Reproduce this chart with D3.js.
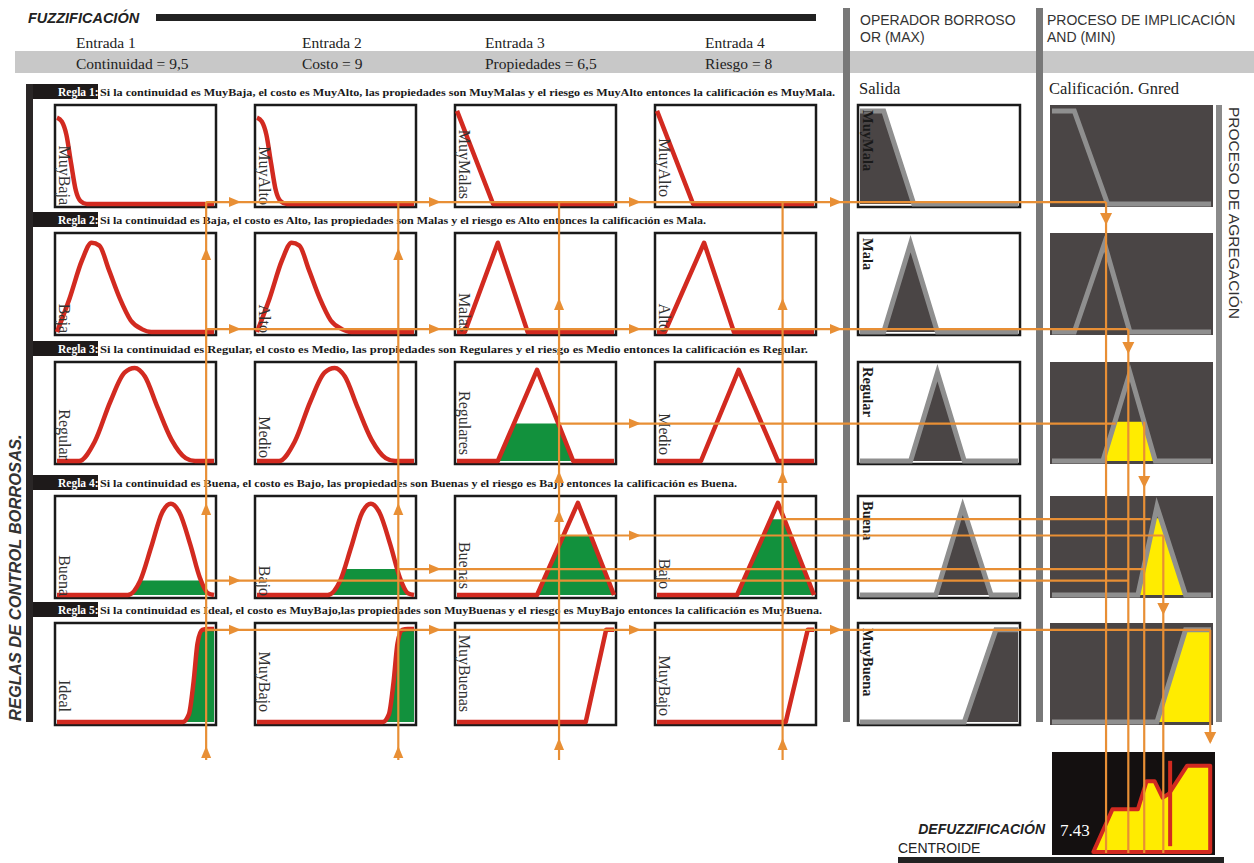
<!DOCTYPE html>
<html><head><meta charset="utf-8">
<script src="https://cdn.jsdelivr.net/npm/d3@7/dist/d3.min.js"></script>
<style>body{margin:0;background:#fff}svg{display:block}</style>
</head><body>
<script>
// ---------------- DATA ----------------
const entradas = ["Entrada 1","Entrada 2","Entrada 3","Entrada 4"];
const variables = ["Continuidad = 9,5","Costo = 9","Propiedades = 6,5","Riesgo = 8"];
const inputValues = [9.5, 9, 6.5, 8];
const reglas = ["Regla 1:","Regla 2:","Regla 3:","Regla 4:","Regla 5:"];
const ruleTexts = [
 "Si la continuidad es MuyBaja, el costo es MuyAlto, las propiedades son MuyMalas y el riesgo es  MuyAlto entonces la calificación es MuyMala.",
 "Si la continuidad es Baja, el costo es Alto, las propiedades son Malas y el riesgo es Alto entonces la calificación es Mala.",
 "Si la continuidad es Regular, el costo es Medio, las propiedades son Regulares y el riesgo es Medio entonces la calificación es Regular.",
 "Si la continuidad es Buena, el costo es Bajo, las propiedades son Buenas y el riesgo es Bajo entonces la calificación es Buena.",
 "Si la continuidad es Ideal, el costo es MuyBajo,las propiedades son MuyBuenas y el riesgo es MuyBajo entonces la calificación es MuyBuena."
];
const ruleTextWidths = [735, 606, 708, 637, 722];
const termLabels = [
 ["MuyBaja","MuyAlto","MuyMalas","MuyAlto"],
 ["Baja","Alto","Malas","Alto"],
 ["Regular","Medio","Regulares","Medio"],
 ["Buena","Bajo","Buenas","Bajo"],
 ["Ideal","MuyBajo","MuyBuenas","MuyBajo"]
];
// membership functions [x (0-10), grade (0-1)]
const zDecreasing = [[0,0.9],[0.3,0.86],[0.6,0.72],[0.9,0.42],[1.2,0.14],[1.5,0.03],[1.9,0],[10,0]];
const bellLow = [[0,0],[0.8,0.35],[1.6,0.75],[2.2,0.93],[2.7,0.9],[3.3,0.65],[4.0,0.35],[4.7,0.12],[5.4,0.03],[6,0],[10,0]];
const bellMid = [[0,0],[1.4,0],[2.4,0.2],[3.4,0.62],[4.3,0.92],[4.95,0.97],[5.6,0.88],[6.4,0.56],[7.3,0.22],[8.2,0.03],[8.8,0],[10,0]];
const bellHigh = [[0,0],[4.5,0],[5.3,0.15],[6.0,0.5],[6.7,0.86],[7.25,0.95],[7.8,0.86],[8.5,0.52],[9.1,0.18],[9.6,0.02],[10,0]];
const sRising = [[0,0],[8.0,0],[8.4,0.08],[8.7,0.42],[8.95,0.82],[9.25,0.96],[9.6,0.97],[10,0.97]];
const memberships = [
 [zDecreasing, zDecreasing, [[0,0.97],[2.3,0],[10,0]], [[0,0.97],[2.3,0],[10,0]]],
 [bellLow, bellLow, [[0,0],[0.5,0],[2.6,0.93],[4.5,0],[10,0]], [[0,0],[0.5,0],[3.0,0.93],[4.9,0],[10,0]]],
 [bellMid, bellMid, [[0,0],[2.6,0],[5.1,0.95],[7.4,0],[10,0]], [[0,0],[2.8,0],[5.2,0.95],[7.7,0],[10,0]]],
 [bellHigh, bellHigh, [[0,0],[5.1,0],[7.7,0.96],[10,0]], [[0,0],[5.1,0],[7.7,0.96],[10,0]]],
 [sRising, sRising, [[0,0],[8.2,0],[9.5,0.96],[10,0.96]], [[0,0],[8.2,0],[9.6,0.96],[10,0.96]]]
];
const smoothShape = [
 [true,true,false,false],[true,true,false,false],[true,true,false,false],[true,true,false,false],[true,true,false,false]
];
// fired degree (green) per rule / input
const firedLevels = [
 [0,0,0,0],
 [0,0,0,0],
 [0,0,0.39,0],
 [0.15,0.27,0.62,0.79],
 [1,1,0,0]
];
// vertical gap (px) between label end and panel bottom
const labelBottomGap = [
 [2,2,8,10],
 [2,2,3,3],
 [4,6,9,9],
 [2,2,9,9],
 [13,13,13,9]
];
const outputLabels = ["MuyMala","Mala","Regular","Buena","MuyBuena"];
const salidaShapes = [
 [[0,0.97],[1.5,0.97],[3.4,0],[10,0]],
 [[0,0],[1.5,0],[3.2,0.92],[4.9,0],[10,0]],
 [[0,0],[3.2,0],[4.9,0.92],[6.6,0],[10,0]],
 [[0,0],[4.8,0],[6.5,0.92],[8.3,0],[10,0]],
 [[0,0],[6.6,0],[8.6,0.96],[10,0.96]]
];
const implicacionShapes = [
 [[0,0.97],[1.4,0.97],[3.5,0],[10,0]],
 [[0,0],[1.4,0],[3.3,0.92],[4.9,0],[10,0]],
 [[0,0],[3.2,0],[4.9,0.92],[6.5,0],[10,0]],
 [[0,0],[5.4,0],[6.6,0.92],[8.4,0],[10,0]],
 [[0,0],[6.6,0],[8.4,0.96],[10,0.96]]
];
const implicationLevels = [0,0,0.41,0.8,0.95];
// aggregated output (defuzzification)
const aggregated = [[2.6,0],[3.8,0.44],[5.4,0.44],[5.95,0.73],[6.45,0.73],[6.95,0.56],[7.35,0.6],[8.5,0.89],[9.95,0.89],[9.95,0]];
const centroide = 7.43;
const centroideTexto = "7.43";
// connectors: horizontal lines from an input column at a fired level, to implication x
const hLinks = [
 {rule:0, col:0, level:0.02, end:3.4, arrows:[0,1,2,3]},
 {rule:1, col:0, level:0.03, end:4.8, arrows:[0,1,2,3]},
 {rule:2, col:2, level:0.39, end:4.0, arrows:[2]},
 {rule:3, col:0, level:0.15, end:4.8, arrows:[0]},
 {rule:3, col:1, level:0.27, end:5.8, arrows:[1]},
 {rule:3, col:2, level:0.62, end:7.0, arrows:[2]},
 {rule:3, col:3, level:0.79, end:6.2, arrows:[]},
 {rule:4, col:0, level:0.96, end:9.95, arrows:[0,1,2,3]}
];
// vertical lines in the implication / aggregation column
const vLinks = [
 {x:3.4, fromRule:0, level:0.02, arrowRow:1},
 {x:4.8, fromRule:1, level:0.03, arrowRow:2},
 {x:5.8, fromRule:2, level:0.41, arrowRow:3},
 {x:7.0, fromRule:3, level:0.62, arrowRow:4},
 {x:9.95, fromRule:4, level:0.96, arrowRow:5}
];
// upward arrow tips on the input value lines (y position)
const inputArrowY = [[250,505,748],[250,505,748],[300,473,512,740],[300,473,740]];

// ---------------- LAYOUT ----------------
const W = 1254, H = 863;
const colX = [55,255,455,655], colW = 161;
const rowY = [105,233,362,496,623], rowH = 102;
const outX = 858, outW = 162, impX = 1050, impW = 163;
const defY = 752, defH = 103;
const RED = "#d22a20", GREEN = "#12913d", ORANGE = "#e88f35", DARK = "#4a4545", GREY = "#8f8f8f", YEL = "#ffec00";

const svg = d3.select("body").append("svg").attr("width",W).attr("height",H)
  .style("font-family","'Liberation Serif','Times New Roman',serif");

function sx(x0,w){return d3.scaleLinear().domain([0,10]).range([x0+2,x0+w-2]);}
function sy(y0,h){return d3.scaleLinear().domain([0,1]).range([y0+h-3,y0+3]);}
const sans = "'Liberation Sans',Arial,sans-serif";

// header
svg.append("text").attr("x",28).attr("y",23).text("FUZZIFICACIÓN")
  .style("font-family",sans).style("font-weight","bold").style("font-style","italic").style("font-size","14.5px").attr("fill","#222");
svg.append("rect").attr("x",156).attr("y",14).attr("width",660).attr("height",7).attr("fill","#222");
svg.append("rect").attr("x",15).attr("y",51).attr("width",W-15).attr("height",22).attr("fill","#c8c8c8");
const entX = [76,302,485,705];
entradas.forEach((t,i)=>{
  svg.append("text").attr("x",entX[i]).attr("y",48).text(t).style("font-size","15.5px").attr("fill","#222");
  svg.append("text").attr("x",entX[i]).attr("y",69).text(variables[i]).style("font-size","15.5px").attr("fill","#222");
});
// column separators
svg.append("rect").attr("x",843).attr("y",8).attr("width",7).attr("height",714).attr("fill","#787878");
svg.append("rect").attr("x",1036).attr("y",8).attr("width",7).attr("height",714).attr("fill","#787878");
svg.append("rect").attr("x",1216).attr("y",105).attr("width",6).attr("height",617).attr("fill","#8a8a8a");
[["OPERADOR BORROSO",860,25],["OR (MAX)",860,42],["PROCESO DE IMPLICACIÓN",1047,25],["AND (MIN)",1047,42]].forEach(d=>{
  svg.append("text").attr("x",d[1]).attr("y",d[2]).text(d[0]).style("font-family",sans).style("font-size","14px").attr("fill","#333");
});
svg.append("text").attr("x",859).attr("y",94).text("Salida").style("font-size","16.5px").attr("fill","#222");
svg.append("text").attr("x",1049).attr("y",94).text("Calificación. Gnred").style("font-size","16.5px").attr("fill","#222");
svg.append("text").attr("transform","translate(1229,107) rotate(90)").text("PROCESO DE AGREGACIÓN")
  .style("font-family",sans).style("font-size","15.5px").attr("fill","#333");
// left bar and vertical title
svg.append("rect").attr("x",26).attr("y",84).attr("width",7).attr("height",638).attr("fill","#2a2626");
svg.append("text").attr("transform","translate(21,721) rotate(-90)").text("REGLAS DE CONTROL BORROSAS.")
  .style("font-family",sans).style("font-weight","bold").style("font-style","italic").style("font-size","16.5px").attr("fill","#333");

// rule headers
reglas.forEach((r,i)=>{
  const y = rowY[i]-21;
  svg.append("rect").attr("x",33).attr("y",y).attr("width",65).attr("height",15).attr("fill","#1e1a1a");
  svg.append("text").attr("x",58).attr("y",y+11.5).text(r).style("font-weight","bold").style("font-size","11.5px").attr("fill","#fff");
  svg.append("text").attr("x",100).attr("y",y+11.5).text(ruleTexts[i]).style("font-weight","bold").style("font-size","11px")
    .attr("textLength",ruleTextWidths[i]).attr("lengthAdjust","spacingAndGlyphs").attr("fill","#1a1a1a");
});

// input panels
const defs = svg.append("defs");
memberships.forEach((row,ri)=>{
  row.forEach((pts,ci)=>{
    const x = sx(colX[ci],colW), y = sy(rowY[ri],rowH);
    const g = svg.append("g");
    g.append("rect").attr("x",colX[ci]).attr("y",rowY[ri]).attr("width",colW).attr("height",rowH)
      .attr("fill","#fff").attr("stroke","#1a1a1a").attr("stroke-width",2.5);
    const curve = smoothShape[ri][ci] ? d3.curveMonotoneX : d3.curveLinear;
    const lvl = firedLevels[ri][ci];
    if (lvl>0){
      const id = `clipIn${ri}${ci}`;
      defs.append("clipPath").attr("id",id).append("rect")
        .attr("x",colX[ci]).attr("y",y(lvl)).attr("width",colW).attr("height",y(0)-y(lvl)+3);
      g.append("path").attr("clip-path",`url(#${id})`)
        .attr("d",d3.area().x(d=>x(d[0])).y0(y(0)).y1(d=>y(d[1])).curve(curve)(pts)).attr("fill",GREEN);
    }
    g.append("path").attr("d",d3.line().x(d=>x(d[0])).y(d=>y(d[1])).curve(curve)(pts))
      .attr("fill","none").attr("stroke",RED).attr("stroke-width",4.5).attr("stroke-linejoin","round");
    g.append("text").attr("transform",`translate(${colX[ci]+4},${rowY[ri]+rowH-labelBottomGap[ri][ci]}) rotate(90)`)
      .attr("text-anchor","end").text(termLabels[ri][ci]).style("font-size","16px").attr("fill","#333");
  });
});

// output (Salida) panels
salidaShapes.forEach((pts,ri)=>{
  const x = sx(outX,outW), y = sy(rowY[ri],rowH);
  svg.append("rect").attr("x",outX).attr("y",rowY[ri]).attr("width",outW).attr("height",rowH)
    .attr("fill","#fff").attr("stroke","#1a1a1a").attr("stroke-width",2.5);
  svg.append("path").attr("d",d3.area().x(d=>x(d[0])).y0(y(0)).y1(d=>y(d[1]))(pts)).attr("fill",DARK);
  svg.append("path").attr("d",d3.line().x(d=>x(d[0])).y(d=>y(d[1]))(pts))
    .attr("fill","none").attr("stroke",GREY).attr("stroke-width",5);
  svg.append("text").attr("transform",`translate(${outX+5},${rowY[ri]+5}) rotate(90)`)
    .text(outputLabels[ri]).style("font-weight","bold").style("font-size","14.5px").attr("fill","#1a1a1a");
});

// implication panels
implicacionShapes.forEach((pts,ri)=>{
  const x = sx(impX,impW), y = sy(rowY[ri],rowH);
  svg.append("rect").attr("x",impX).attr("y",rowY[ri]).attr("width",impW).attr("height",rowH).attr("fill",DARK);
  const lvl = implicationLevels[ri];
  if (lvl>0){
    const id = `clipImp${ri}`;
    defs.append("clipPath").attr("id",id).append("rect")
      .attr("x",impX).attr("y",y(lvl)).attr("width",impW).attr("height",y(0)-y(lvl)+3);
    svg.append("path").attr("clip-path",`url(#${id})`)
      .attr("d",d3.area().x(d=>x(d[0])).y0(y(0)).y1(d=>y(d[1]))(pts)).attr("fill",YEL);
  }
  svg.append("path").attr("d",d3.line().x(d=>x(d[0])).y(d=>y(d[1]))(pts))
    .attr("fill","none").attr("stroke",GREY).attr("stroke-width",5);
});

// defuzzification
{
  const x = sx(impX,impW), y = sy(defY,defH);
  svg.append("rect").attr("x",impX+2).attr("y",defY).attr("width",impW).attr("height",defH).attr("fill","#141010");
  svg.append("path").attr("d",d3.line().x(d=>x(d[0])).y(d=>y(d[1]))(aggregated)+"Z")
    .attr("fill",YEL).attr("stroke",RED).attr("stroke-width",4).attr("stroke-linejoin","round");
  svg.append("line").attr("x1",x(centroide)).attr("x2",x(centroide)).attr("y1",y(0.06)).attr("y2",y(0.94))
    .attr("stroke",RED).attr("stroke-width",4);
  svg.append("text").attr("x",1060).attr("y",836).text(centroideTexto).style("font-size","17px").attr("fill","#fff");
  svg.append("text").attr("x",1045).attr("y",834).attr("text-anchor","end").text("DEFUZZIFICACIÓN")
    .style("font-family",sans).style("font-weight","bold").style("font-style","italic").style("font-size","14px").attr("fill","#222");
  svg.append("text").attr("x",898).attr("y",853).text("CENTROIDE").style("font-family",sans).style("font-size","14px").attr("fill","#222");
  svg.append("rect").attr("x",898).attr("y",857).attr("width",326).attr("height",6).attr("fill","#222");
}

// ---------------- CONNECTORS ----------------
const conn = svg.append("g").attr("stroke",ORANGE).attr("stroke-width",2.2).attr("fill","none");
function arrowRight(px,py){ svg.append("path").attr("d",`M${px-10},${py-5}L${px+2},${py}L${px-10},${py+5}Z`).attr("fill",ORANGE); }
function arrowUp(px,py){ svg.append("path").attr("d",`M${px-5},${py+10}L${px},${py-2}L${px+5},${py+10}Z`).attr("fill",ORANGE); }
function arrowDown(px,py){ svg.append("path").attr("d",`M${px-6},${py-10}L${px},${py+2}L${px+6},${py-10}Z`).attr("fill",ORANGE); }
const gapX = [colX[1]-16, colX[2]-16, colX[3]-16, outX-18];
const impScale = sx(impX,impW);
// input value verticals
inputValues.forEach((v,ci)=>{
  const x = sx(colX[ci],colW)(v);
  conn.append("line").attr("x1",x).attr("x2",x).attr("y1",760).attr("y2",sy(rowY[0],rowH)(0.02));
  inputArrowY[ci].forEach(py=>arrowUp(x,py));
});
// horizontal links
hLinks.forEach(l=>{
  const y = sy(rowY[l.rule],rowH)(l.level);
  const x0 = sx(colX[l.col],colW)(inputValues[l.col]);
  const x1 = impScale(l.end);
  conn.append("line").attr("x1",x0).attr("x2",x1).attr("y1",y).attr("y2",y);
  l.arrows.forEach(a=>arrowRight(gapX[a],y));
});
// implication verticals
vLinks.forEach(v=>{
  const x = impScale(v.x);
  const y0 = sy(rowY[v.fromRule],rowH)(v.level);
  const yEnd = v.arrowRow===5 ? 742 : defY+defH-2;
  conn.append("line").attr("x1",x).attr("x2",x).attr("y1",y0).attr("y2",yEnd);
  arrowDown(x, v.arrowRow<5 ? rowY[v.arrowRow]-10 : 742);
});
</script>
</body></html>
